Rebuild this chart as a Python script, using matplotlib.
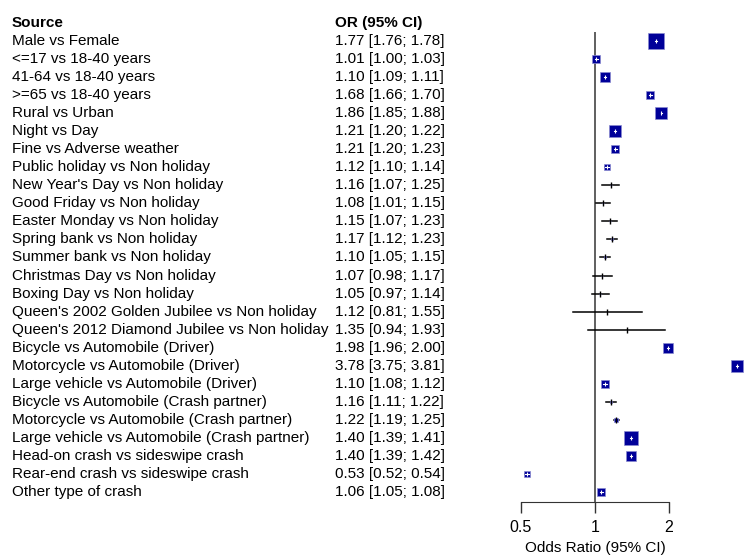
import numpy as np
import matplotlib.pyplot as plt

plt.rcParams['font.family'] = ['Liberation Sans', 'DejaVu Sans']

labels = ["Male vs Female", "<=17 vs 18-40 years", "41-64 vs 18-40 years",
          ">=65 vs 18-40 years", "Rural vs Urban", "Night vs Day",
          "Fine vs Adverse weather", "Public holiday vs Non holiday",
          "New Year's Day vs Non holiday", "Good Friday vs Non holiday",
          "Easter Monday vs Non holiday", "Spring bank vs Non holiday",
          "Summer bank vs Non holiday", "Christmas Day vs Non holiday",
          "Boxing Day vs Non holiday", "Queen's 2002 Golden Jubilee vs Non holiday",
          "Queen's 2012 Diamond Jubilee vs Non holiday", "Bicycle vs Automobile (Driver)",
          "Motorcycle vs Automobile (Driver)", "Large vehicle vs Automobile (Driver)",
          "Bicycle vs Automobile (Crash partner)", "Motorcycle vs Automobile (Crash partner)",
          "Large vehicle vs Automobile (Crash partner)", "Head-on crash vs sideswipe crash",
          "Rear-end crash vs sideswipe crash", "Other type of crash"]
odds = [1.77, 1.01, 1.10, 1.68, 1.86, 1.21, 1.21, 1.12, 1.16, 1.08, 1.15, 1.17, 1.10,
        1.07, 1.05, 1.12, 1.35, 1.98, 3.78, 1.10, 1.16, 1.22, 1.40, 1.40, 0.53, 1.06]
lower = [1.76, 1.00, 1.09, 1.66, 1.85, 1.20, 1.20, 1.10, 1.07, 1.01, 1.07, 1.12, 1.05,
         0.98, 0.97, 0.81, 0.94, 1.96, 3.75, 1.08, 1.11, 1.19, 1.39, 1.39, 0.52, 1.05]
upper = [1.78, 1.03, 1.11, 1.70, 1.88, 1.22, 1.23, 1.14, 1.25, 1.15, 1.23, 1.23, 1.15,
         1.17, 1.14, 1.55, 1.93, 2.00, 3.81, 1.12, 1.22, 1.25, 1.41, 1.42, 0.54, 1.08]
# relative weight -> box size
weight = [15, 6.5, 10, 8, 11, 11, 8, 6, 1, 1, 1, 2.5, 2.5, 1, 1, 0.5, 0.5,
          9.5, 11, 6.5, 2.5, 4, 12.5, 9.5, 6, 7]

W, H = 750, 560
fig = plt.figure(figsize=(7.5, 5.6), dpi=100)

# forest panel: 1 at px 595, 74 px per doubling
px_per_dbl = 74.0
left_px, right_px = 500, 745
top_px, bot_px = 32, 502
row0_px, row_step = 41, 18.04
xlo = 2 ** ((left_px - 595) / px_per_dbl)
xhi = 2 ** ((right_px - 595) / px_per_dbl)
ylo = -(row0_px - top_px) / row_step
yhi = (bot_px - row0_px) / row_step

ax = fig.add_axes([left_px / W, 1 - bot_px / H, (right_px - left_px) / W, (bot_px - top_px) / H])
ax.set_xscale('log')
ax.set_xlim(xlo, xhi)
ax.set_ylim(yhi, ylo)
for s in ['top', 'right', 'left']:
    ax.spines[s].set_visible(False)
ax.spines['bottom'].set_bounds(0.5, 2)
ax.spines['bottom'].set_color('#333333')
ax.set_xticks([0.5, 1, 2])
ax.set_xticklabels(['0.5', '1', '2'])
ax.xaxis.set_minor_locator(plt.NullLocator())
ax.tick_params(axis='x', length=8, width=1, color='#333333', labelsize=11.5, pad=5)
ax.set_yticks([])
ax.text(1, yhi + 46 / row_step, 'Odds Ratio (95% CI)', fontsize=11, ha='center', va='center')
ax.axvline(1, color='#444444', lw=1.2, zorder=1)

y = np.arange(len(labels))
for i in range(len(labels)):
    ax.plot([lower[i], upper[i]], [y[i], y[i]], color='black', lw=1.1, zorder=2)
    s = weight[i] * 1.08
    ax.plot(odds[i], y[i], marker='s', ms=s * 0.72, color='#000099',
            mec='#8a8ad0', mew=0.5, zorder=3)
    if s >= 5:
        f = 2 ** ((s / 2 - 1.5) / px_per_dbl)
        ax.plot([max(lower[i], odds[i] / f), min(upper[i], odds[i] * f)], [y[i], y[i]],
                color='white', lw=0.8, zorder=4)
        ax.plot(odds[i], y[i], marker='|', ms=min(4, s - 3) * 0.72, color='white', mew=0.8, zorder=5)
    else:
        ax.plot(odds[i], y[i], marker='|', ms=5, color='black', mew=1, zorder=5)

# text columns
tx = fig.add_axes([0, 0, 1, 1])
tx.set_xlim(0, W)
tx.set_ylim(H, 0)
tx.axis('off')
tx.patch.set_alpha(0)
tx.text(12, 23, 'Source', fontsize=11, fontweight='bold', va='center')
tx.text(335, 23, 'OR (95% CI)', fontsize=11, fontweight='bold', va='center')
for i in range(len(labels)):
    yy = row0_px + row_step * i
    tx.text(12, yy, labels[i], fontsize=11, va='center')
    tx.text(335, yy, '%.2f [%.2f; %.2f]' % (odds[i], lower[i], upper[i]), fontsize=11, va='center')

fig.savefig('out.png', dpi=100)
